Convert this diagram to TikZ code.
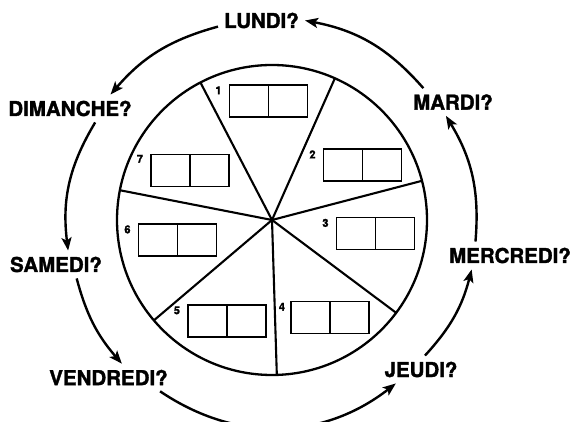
\documentclass[tikz,border=0pt]{standalone}
\usepackage{fontspec}
\setmainfont{TeX Gyre Heros}[BoldFeatures={FakeBold=1.6}]
\usetikzlibrary{arrows.meta, positioning}

\begin{document}
\begin{tikzpicture}[x=1pt, y=1pt,
  day/.style={font=\fontsize{20.5}{24}\selectfont\bfseries, inner sep=6pt},
  cell/.style={draw, line width=1.6pt, minimum width=78pt, minimum height=32pt,
               inner sep=0pt,
               path picture={\draw[line width=1.6pt] (path picture bounding box.north)
                             -- (path picture bounding box.south);}},
  num/.style={font=\fontsize{11}{12}\selectfont\bfseries, inner sep=0pt},
  a/.style={-{Stealth[length=13pt, width=10pt, inset=3pt]}, line width=2.4pt},
]
  \useasboundingbox (0,0) rectangle (575,422);

  % the wheel
  \coordinate (hub) at (272,202);
  \draw[line width=2.3pt] (hub) circle[radius=155];
  \foreach \k in {0,...,6}
    \draw[line width=2.1pt] (hub) -- ++({117.5-\k*360/7}:155);

  % boxes
  \node[cell] (b1) at (268.5,321) {};
  \node[cell] (b2) at (362.5,257) {};
  \node[cell] (b3) at (375.5,188.5) {};
  \node[cell] (b4) at (330,104.5) {};
  \node[cell] (b5) at (227,101) {};
  \node[cell] (b6) at (177.5,182) {};
  \node[cell] (b7) at (190,251.5) {};

  \node[num, below left=2pt and 7pt of b1.north west] (n1) {1};
  \node[num, below left=2pt and 7pt of b2.north west] (n2) {2};
  \node[num, below left=2pt and 7pt of b3.north west] (n3) {3};
  \node[num, below left=2pt and 5pt of b4.north west] (n4) {4};
  \node[num, below left=2pt and 7pt of b5.north west] (n5) {5};
  \node[num, below left=2pt and 7pt of b6.north west] (n6) {6};
  \node[num, below left=1pt and 7pt of b7.north west] (n7) {7};

  % days
  \node[day] (lundi)    at (261.5,401.5) {LUNDI?};
  \node[day] (dimanche) at (70,313.5)    {DIMANCHE?};
  \node[day] (samedi)   at (56,157.5)    {SAMEDI?};
  \node[day] (vendredi) at (108.5,44.5)  {VENDREDI?};
  \node[day] (jeudi)    at (421,52.5)    {JEUDI?};
  \node[day] (mercredi) at (510,166.5)   {MERCREDI?};
  \node[day] (mardi)    at (453,320)     {MARDI?};

  \draw[a] (mardi.155) to[bend right=19] (lundi.east);
  \draw[a] (lundi.188) to[bend right=17] (dimanche.19);
  \draw[a] (dimanche.-29) to[bend right=19] (samedi.49);
  \draw[a] (samedi.-34) to[bend right=13] (vendredi.46);
  \draw[a] (vendredi.-15) to[bend right=36] (jeudi.209);
  \draw[a] (jeudi.74) to[bend right=14] (mercredi.200);
  \draw[a] (mercredi.158) to[bend right=18] (mardi.243);
\end{tikzpicture}
\end{document}
